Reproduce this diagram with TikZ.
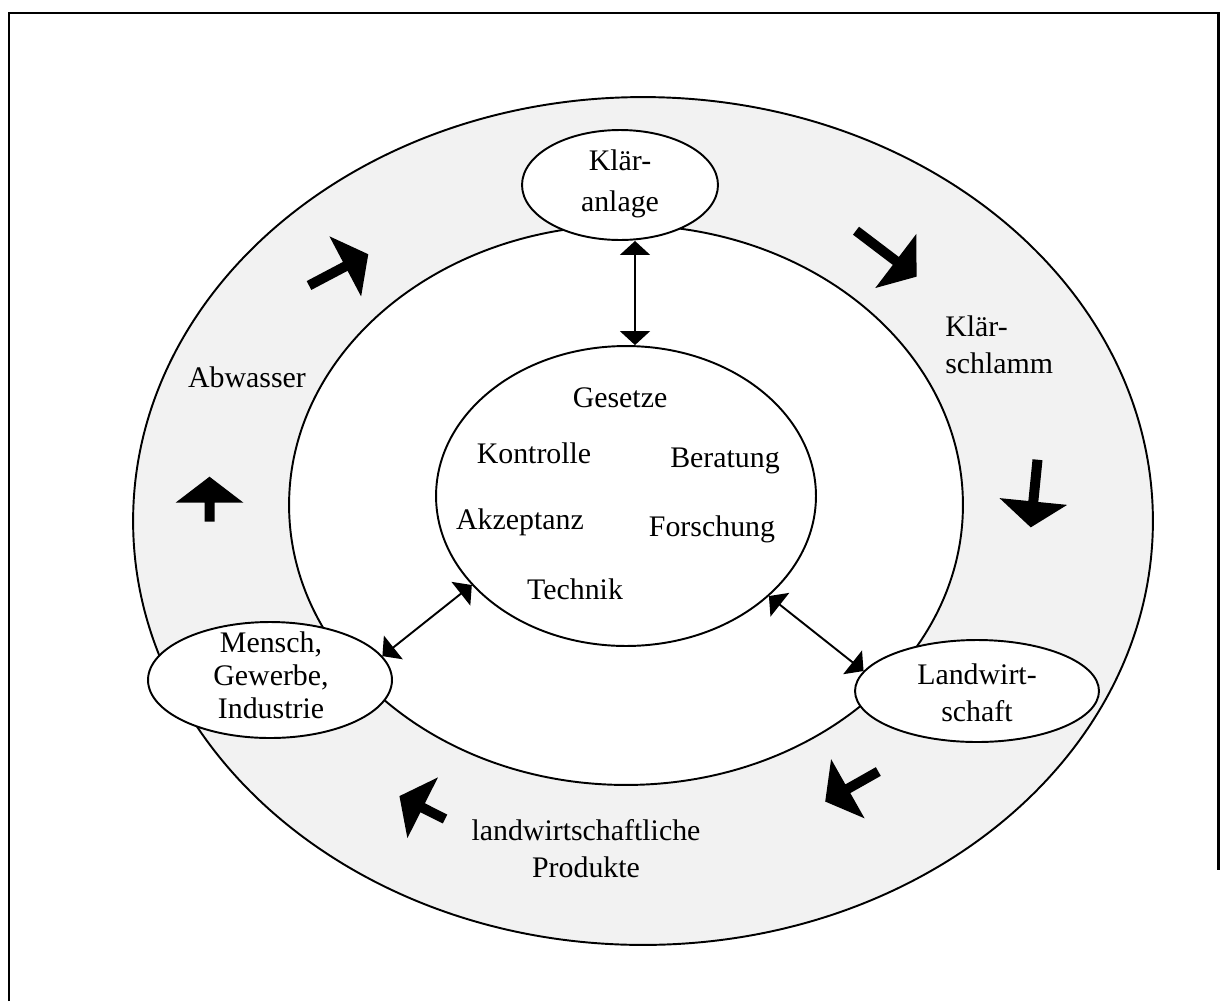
\documentclass[tikz,border=0pt]{standalone}
\usepackage{fontspec}
\setmainfont{Liberation Serif}
\usetikzlibrary{shapes.geometric,arrows.meta}
\definecolor{ringgray}{HTML}{F2F2F2}
% thick block arrow: tail point, rotation (deg), total length
\newcommand\flowarrow[3]{%
  \fill[shift={(#1)}, rotate=#2]
    (0,-5) -- (#3-26,-5) -- (#3-26,-34) -- (#3,0) -- (#3-26,34) -- (#3-26,5) -- (0,5) -- cycle;}
\begin{document}
\begin{tikzpicture}[x=0.02cm, y=-0.02cm,
  oval/.style={ellipse, draw, line width=1.1pt, fill=white, inner sep=0pt},
  lbl/.style={font=\fontsize{17}{21}\selectfont, align=center, inner sep=0pt},
  dbl/.style={line width=1.1pt,
    {Triangle[width=0.6cm,length=0.28cm]}-{Triangle[width=0.6cm,length=0.28cm]}},
  borderline/.style={line width=1.7pt}]
\useasboundingbox (0,0) rectangle (1226,1001);

% frame
\draw[borderline] (9,1001) -- (9,13) -- (1218,13) -- (1218,870);

% ring
\node[oval, fill=ringgray, minimum width=20.4cm, minimum height=16.96cm] (outer) at (643,521) {};
\node[oval, minimum width=13.48cm, minimum height=11.2cm] (inner) at (626,505) {};
\node[oval, minimum width=7.6cm, minimum height=6.0cm] (central) at (626,496) {};

% stations on the ring
\node[oval, minimum width=3.92cm, minimum height=2.2cm] (klaer) at (620,185) {};
\node[lbl, font=\fontsize{17}{23.5}\selectfont] (klaertxt) at (620,184) {Klär-\\anlage};
\node[oval, minimum width=4.88cm, minimum height=2.32cm] (mensch) at (270,680) {};
\node[lbl, font=\fontsize{17}{18.8}\selectfont] (menschtxt) at (271,675) {Mensch,\\Gewerbe,\\Industrie};
\node[oval, minimum width=4.88cm, minimum height=2.04cm] (landw) at (977,691) {};
\node[lbl] (landwtxt) at (977,693) {Landwirt-\\schaft};

% flow labels
\node[lbl] (abwasser) at (247,377) {Abwasser};
\node[lbl, anchor=west, align=left] (schlamm) at (945,345) {Klär-\\schlamm};
\node[lbl] (produkte) at (586,849) {landwirtschaftliche\\Produkte};

% central topics
\node[lbl] (gesetze) at (620,398) {Gesetze};
\node[lbl] (kontrolle) at (534,453) {Kontrolle};
\node[lbl] (beratung) at (725,461) {Beratung};
\node[lbl] (akzeptanz) at (520,522) {Akzeptanz};
\node[lbl] (forschung) at (712,529) {Forschung};
\node[lbl] (technik) at (575,589) {Technik};

% links to the centre
\draw[dbl] (635,0 |- klaer.south) -- (635,0 |- central.north);
\draw[dbl] (mensch.12) -- (central.210);
\draw[dbl] (central.-35.6) -- (landw.170.6);

% flow direction around the ring
\flowarrow{309,285.5}{27.8}{67}
\flowarrow{856,230.7}{-37.2}{76}
\flowarrow{1037.5,459.7}{-95.7}{68}
\flowarrow{209.5,521.7}{90}{45}
\flowarrow{878.3,771.5}{-150.5}{61}
\flowarrow{445,819}{153.3}{51}
\end{tikzpicture}
\end{document}
